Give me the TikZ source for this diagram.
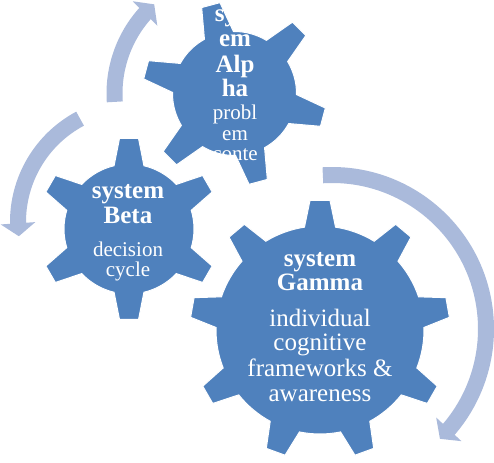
\documentclass[tikz,border=0pt]{standalone}
\usepackage{fontspec}
\setmainfont{Liberation Serif}
\usetikzlibrary{arrows.meta,bending}
\definecolor{gearblue}{RGB}{79,129,189}
\definecolor{arrowblue}{RGB}{170,186,219}
\tikzset{
  gearfill/.style={fill=gearblue, draw=white, line width=1pt},
  cyclearrow/.style={draw=arrowblue, line width=16pt,
    -{Triangle[length=13pt,width=34pt,fill=arrowblue]}},
  titletext/.style={text=white, anchor=base, inner sep=0pt,
    font=\bfseries\fontsize{25}{25}\selectfont},
  smalltext/.style={text=white, anchor=base, inner sep=0pt,
    font=\fontsize{21}{21}\selectfont},
  bigtext/.style={text=white, anchor=base, inner sep=0pt,
    font=\fontsize{25}{25}\selectfont}
}
% #1 centre, #2 teeth, #3 first tooth angle, #4 root radius, #5 tip radius,
% #6 root half-angle, #7 tip half-angle
\newcommand{\drawgear}[7]{%
  \fill[gearfill, shift={(#1)}] ({#3-#6}:#4pt)
  \foreach \k in {1,...,#2}{
    -- ({#3+(\k-1)*360/#2-#7}:#5pt) -- ({#3+(\k-1)*360/#2+#7}:#5pt)
    -- ({#3+(\k-1)*360/#2+#6}:#4pt)
    arc[start angle={#3+(\k-1)*360/#2+#6}, end angle={#3+\k*360/#2-#6}, radius=#4pt]
  } -- cycle;}
\begin{document}
\begin{tikzpicture}[x=1pt,y=1pt]
\useasboundingbox (0,0) rectangle (494,462);
% gear centres
\coordinate (alpha) at (234.5,368.5);
\coordinate (beta) at (129,233);
\coordinate (gamma) at (320,132);
% arrow arc centres
\coordinate (arcA) at (234.5,368.5);
\coordinate (arcB) at (135,240);
\coordinate (arcG) at (332,133);

\drawgear{gamma}{9}{90}{104}{130}{8.6}{4.4}
\drawgear{beta}{6}{90}{65}{91}{13.3}{6.0}
\drawgear{alpha}{6}{105}{62}{92}{14.0}{5.9}

% texts
\node[titletext] (a1) at (235,440.3) {syst};
\node[titletext] (a2) at (235,415.3) {em};
\node[titletext] (a3) at (235,389.5) {Alp};
\node[titletext] (a4) at (235,365) {ha};
\node[smalltext] (a5) at (235,342) {probl};
\node[smalltext] (a6) at (235,321) {em};
\node[smalltext] (a7) at (235,301) {conte};

\node[titletext] (b1) at (128,263) {system};
\node[titletext] (b2) at (128,238) {Beta};
\node[smalltext] (b3) at (128,205.3) {decision};
\node[smalltext] (b4) at (128,185.3) {cycle};

\node[titletext] (g1) at (320,195.3) {system};
\node[titletext] (g2) at (320,171.3) {Gamma};
\node[bigtext] (g3) at (320,135.3) {individual};
\node[bigtext] (g4) at (320,111.3) {cognitive};
\node[bigtext] (g5) at (320,85.3) {frameworks \&};
\node[bigtext] (g6) at (320,60.3) {awareness};

% cycle arrows
\draw[cyclearrow] ([shift={(184:120pt)}]arcA) arc[start angle=184, end angle=132, radius=120pt];
\draw[cyclearrow] ([shift={(118:117pt)}]arcB) arc[start angle=118, end angle=187, radius=117pt];
\draw[cyclearrow] ([shift={(93.4:154pt)}]arcG) arc[start angle=93.4, end angle=-45.5, radius=154pt];
\end{tikzpicture}
\end{document}
